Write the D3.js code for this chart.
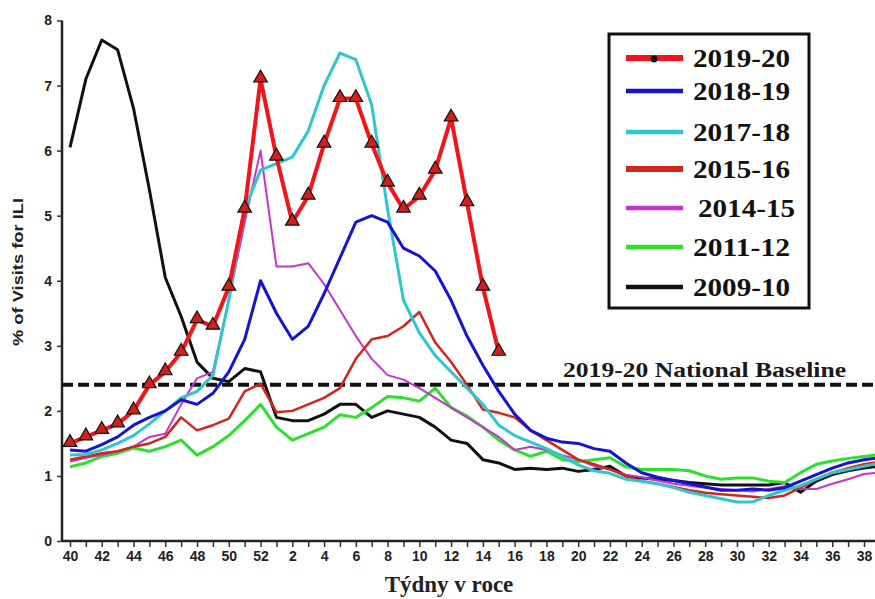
<!DOCTYPE html>
<html>
<head>
<meta charset="utf-8">
<script src="https://cdn.jsdelivr.net/npm/d3@7"></script>
<style>
  body { margin: 0; background: #fff; }
  svg { display: block; }
</style>
</head>
<body>
<div class="container"></div>
<script>
"use strict";

// weeks of the season, 40 -> 52 then 1 -> 39
const weeks = [40, 41, 42, 43, 44, 45, 46, 47, 48, 49, 50, 51, 52,
  1, 2, 3, 4, 5, 6, 7, 8, 9, 10, 11, 12, 13, 14, 15, 16, 17, 18, 19, 20,
  21, 22, 23, 24, 25, 26, 27, 28, 29, 30, 31, 32, 33, 34, 35, 36, 37, 38, 39];

const yTicks = [0, 1, 2, 3, 4, 5, 6, 7, 8];
const baselineValue = 2.4;
const baselineLabel = "2019-20 National Baseline";

const seasons = ["2019-20", "2018-19", "2017-18", "2015-16", "2014-15", "2011-12", "2009-10"];

const s2019_20 = [1.5, 1.6, 1.7, 1.8, 2.0, 2.4, 2.6, 2.9, 3.4, 3.3, 3.9, 5.1, 7.1,
  5.9, 4.9, 5.3, 6.1, 6.8, 6.8, 6.1, 5.5, 5.1, 5.3, 5.7, 6.5, 5.2, 3.9, 2.9];

const s2018_19 = [1.4, 1.38, 1.48, 1.6, 1.78, 1.9, 2.0, 2.17, 2.1, 2.27, 2.6, 3.1, 4.0,
  3.5, 3.1, 3.3, 3.8, 4.35, 4.9, 5.0, 4.9, 4.5, 4.38, 4.15, 3.7, 3.15, 2.7, 2.3,
  1.95, 1.7, 1.58, 1.52, 1.5, 1.42, 1.38, 1.2, 1.05, 0.98, 0.93, 0.88, 0.83, 0.78,
  0.78, 0.8, 0.78, 0.82, 0.92, 1.02, 1.12, 1.2, 1.25, 1.28];

const s2017_18 = [1.32, 1.33, 1.4, 1.5, 1.62, 1.8, 2.0, 2.2, 2.3, 2.55, 3.7, 5.1, 5.7,
  5.8, 5.9, 6.3, 7.0, 7.5, 7.4, 6.7, 5.1, 3.7, 3.2, 2.85, 2.6, 2.35, 2.1, 1.78,
  1.62, 1.52, 1.42, 1.3, 1.17, 1.08, 1.04, 0.95, 0.92, 0.88, 0.82, 0.75, 0.7, 0.65,
  0.6, 0.6, 0.7, 0.78, 0.85, 0.95, 1.05, 1.1, 1.15, 1.2];

const s2015_16 = [1.25, 1.3, 1.35, 1.38, 1.45, 1.5, 1.6, 1.9, 1.7, 1.78, 1.88, 2.3, 2.42,
  1.98, 2.0, 2.1, 2.2, 2.35, 2.8, 3.1, 3.15, 3.3, 3.52, 3.05, 2.75, 2.4, 2.02, 1.97,
  1.9, 1.7, 1.55, 1.4, 1.25, 1.18, 1.1, 1.0, 0.92, 0.88, 0.83, 0.78, 0.74, 0.72,
  0.7, 0.68, 0.66, 0.7, 0.82, 0.95, 1.05, 1.12, 1.18, 1.22];

const s2014_15 = [1.22, 1.28, 1.32, 1.38, 1.45, 1.6, 1.65, 2.1, 2.5, 2.6, 3.7, 4.9, 6.0,
  4.22, 4.22, 4.27, 3.95, 3.55, 3.15, 2.8, 2.55, 2.48, 2.35, 2.2, 2.05, 1.9, 1.75, 1.6,
  1.4, 1.45, 1.4, 1.32, 1.25, 1.15, 1.1, 1.02, 0.98, 0.93, 0.88, 0.85, 0.82, 0.8,
  0.78, 0.76, 0.8, 0.84, 0.8, 0.8, 0.88, 0.95, 1.03, 1.05];

const s2011_12 = [1.14, 1.2, 1.3, 1.35, 1.43, 1.38, 1.45, 1.55, 1.32, 1.45, 1.62, 1.85, 2.1,
  1.75, 1.55, 1.65, 1.75, 1.94, 1.9, 2.05, 2.22, 2.2, 2.15, 2.35, 2.05, 1.92, 1.75, 1.55,
  1.4, 1.3, 1.38, 1.25, 1.22, 1.25, 1.28, 1.14, 1.1, 1.1, 1.1, 1.08, 1.0, 0.95,
  0.97, 0.97, 0.92, 0.9, 1.05, 1.18, 1.23, 1.27, 1.3, 1.33];

const s2009_10 = [6.05, 7.1, 7.7, 7.55, 6.65, 5.4, 4.05, 3.45, 2.75, 2.5, 2.45, 2.65, 2.6,
  1.9, 1.85, 1.85, 1.95, 2.1, 2.1, 1.9, 2.0, 1.95, 1.9, 1.75, 1.55, 1.5, 1.25, 1.2,
  1.1, 1.12, 1.1, 1.12, 1.07, 1.1, 1.15, 1.0, 0.97, 0.95, 0.93, 0.9, 0.88, 0.86,
  0.86, 0.86, 0.86, 0.9, 0.75, 0.92, 1.02, 1.08, 1.12, 1.15];

const seriesValues = [s2019_20, s2018_19, s2017_18, s2015_16, s2014_15, s2011_12, s2009_10];

// styling per season
const seriesStyle = {
  "2019-20": { color: "#f2141a", width: 4 },
  "2018-19": { color: "#1414d2", width: 3 },
  "2017-18": { color: "#2fc6cf", width: 3 },
  "2015-16": { color: "#d2261c", width: 2.5 },
  "2014-15": { color: "#c634cc", width: 2 },
  "2011-12": { color: "#2ee02e", width: 3 },
  "2009-10": { color: "#111111", width: 3 }
};

const width = 875;
const height = 599;

const svg = d3.select(".container").append("svg")
  .attr("width", width)
  .attr("height", height);

const x = d3.scaleLinear().domain([0, weeks.length - 1]).range([70, 70 + 15.88 * (weeks.length - 1)]);
const y = d3.scaleLinear().domain([0, 8]).range([541, 20.5]);

/////////////////////////////////////////////
// axes
const xAxis = d3.axisBottom(x)
  .tickValues(d3.range(weeks.length))
  .tickSize(6)
  .tickFormat((d) => (d % 2 === 0 ? weeks[d] : ""));

const gx = svg.append("g")
  .attr("transform", "translate(0,541)")
  .call(xAxis);
gx.select(".domain").remove();
gx.append("line")
  .attr("x1", 62).attr("x2", width)
  .attr("y1", 0).attr("y2", 0)
  .attr("stroke", "#222").attr("stroke-width", 2.5);
gx.selectAll(".tick line").attr("stroke", "#333").attr("stroke-width", 1.5);
gx.selectAll(".tick text")
  .attr("y", 10)
  .attr("fill", "#222")
  .style("font-family", "Liberation Sans, Arial, sans-serif")
  .style("font-weight", "bold")
  .style("font-size", "14px");

const yAxis = d3.axisLeft(y).tickValues(yTicks).tickSize(5).tickFormat(d3.format("d"));
const gy = svg.append("g")
  .attr("transform", "translate(62,0)")
  .call(yAxis);
gy.select(".domain").attr("stroke", "#222").attr("stroke-width", 2.5)
  .attr("d", "M0," + y(8) + "V" + y(0));
gy.selectAll(".tick line").attr("stroke", "#333").attr("stroke-width", 1.5);
gy.selectAll(".tick text")
  .attr("x", -10)
  .attr("fill", "#222")
  .style("font-family", "Liberation Sans, Arial, sans-serif")
  .style("font-weight", "bold")
  .style("font-size", "14px");

// axis titles
svg.append("text")
  .attr("transform", "translate(23,272) rotate(-90)")
  .attr("text-anchor", "middle")
  .attr("textLength", 148)
  .attr("lengthAdjust", "spacingAndGlyphs")
  .style("font-family", "Liberation Sans, Arial, sans-serif")
  .style("font-weight", "bold")
  .style("font-size", "15px")
  .attr("fill", "#222")
  .text("% of Visits for ILI");

svg.append("text")
  .attr("x", 449)
  .attr("y", 592)
  .attr("text-anchor", "middle")
  .style("font-family", "Liberation Serif, Times New Roman, serif")
  .style("font-weight", "bold")
  .style("font-size", "23px")
  .attr("fill", "#222")
  .text("Týdny v roce");

/////////////////////////////////////////////
// baseline
svg.append("line")
  .attr("x1", 62).attr("x2", width)
  .attr("y1", y(baselineValue)).attr("y2", y(baselineValue))
  .attr("stroke", "#111")
  .attr("stroke-width", 4)
  .attr("stroke-dasharray", "11,5");

svg.append("text")
  .attr("x", 563)
  .attr("y", y(baselineValue) - 8)
  .attr("textLength", 283)
  .attr("lengthAdjust", "spacingAndGlyphs")
  .style("font-family", "Liberation Serif, Times New Roman, serif")
  .style("font-weight", "bold")
  .style("font-size", "21px")
  .attr("fill", "#1a1a1a")
  .text(baselineLabel);

/////////////////////////////////////////////
// lines
const line = d3.line()
  .x((d, i) => x(i))
  .y((d) => y(d));

const drawOrder = [6, 5, 4, 3, 2, 1, 0];
drawOrder.forEach((k) => {
  const st = seriesStyle[seasons[k]];
  svg.append("path")
    .datum(seriesValues[k])
    .attr("fill", "none")
    .attr("stroke", st.color)
    .attr("stroke-width", st.width)
    .attr("stroke-linejoin", "round")
    .attr("d", line);
});

// triangles on 2019-20
const tri = d3.symbol().type(d3.symbolTriangle).size(80);
svg.append("g")
  .selectAll("path")
  .data(s2019_20)
  .enter()
  .append("path")
  .attr("d", tri)
  .attr("transform", (d, i) => "translate(" + x(i) + "," + (y(d) - 1) + ")")
  .attr("fill", "#d0201c")
  .attr("stroke", "#111")
  .attr("stroke-width", 1.2);

/////////////////////////////////////////////
// legend
const legend = svg.append("g").attr("id", "legend");
legend.append("rect")
  .attr("x", 609).attr("y", 34)
  .attr("width", 200).attr("height", 274)
  .attr("fill", "#fff")
  .attr("stroke", "#111")
  .attr("stroke-width", 3);

const legendY = [58, 91, 132, 169, 208, 247, 287];
const legendItems = legend.selectAll(".legend-item")
  .data(seasons)
  .enter()
  .append("g")
  .attr("class", "legend-item")
  .attr("transform", (d, i) => "translate(0," + legendY[i] + ")");

legendItems.append("line")
  .attr("x1", 626).attr("x2", 683)
  .attr("y1", 0).attr("y2", 0)
  .attr("stroke", (d) => seriesStyle[d].color)
  .attr("stroke-width", (d) => (d === "2019-20" || d === "2015-16" ? 6 : 4.5));

legendItems.filter((d) => d === "2019-20")
  .append("circle")
  .attr("cx", 654).attr("cy", 1)
  .attr("r", 3.5)
  .attr("fill", "#111");

legendItems.append("text")
  .attr("x", (d) => (d === "2014-15" ? 698 : 693))
  .attr("y", 9)
  .attr("textLength", 97)
  .attr("lengthAdjust", "spacingAndGlyphs")
  .style("font-family", "Liberation Serif, Times New Roman, serif")
  .style("font-weight", "bold")
  .style("font-size", "26px")
  .attr("fill", "#111")
  .text((d) => d);
</script>
</body>
</html>
